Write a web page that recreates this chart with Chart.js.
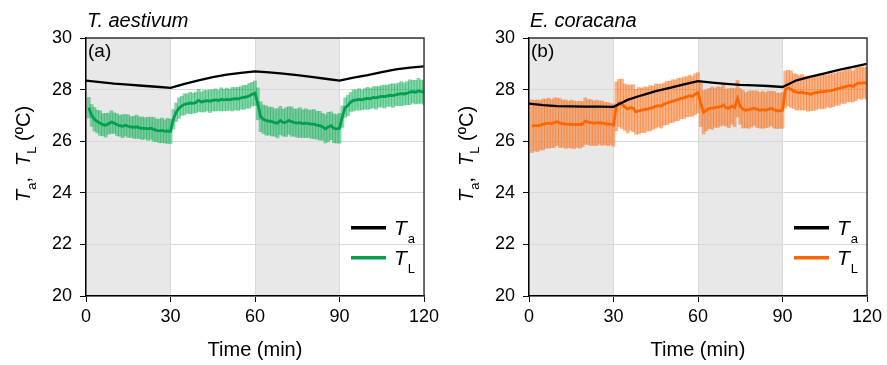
<!DOCTYPE html>
<html>
<head>
<meta charset="utf-8">
<script src="https://cdn.jsdelivr.net/npm/chart.js@4"></script>
<style>
  body { margin: 0; background: #fff; width: 887px; height: 365px; overflow: hidden; position: relative; }
  canvas { position: absolute; top: 0; }
  #chartA { left: 0; }
  #chartB { left: 440px; }
</style>
</head>
<body>
<canvas id="chartA" width="440" height="365"></canvas>
<canvas id="chartB" width="447" height="365"></canvas>
<script>
// air temperature, sampled every 5 min
const taTime = [0, 5, 10, 15, 20, 25, 30, 35, 40, 45, 50, 55, 60, 65, 70, 75, 80, 85, 90, 95, 100, 105, 110, 115, 120];
const taA = [28.35, 28.29, 28.23, 28.19, 28.15, 28.11, 28.07, 28.22, 28.36, 28.48, 28.58, 28.65, 28.71,
             28.67, 28.62, 28.56, 28.49, 28.42, 28.35, 28.46, 28.56, 28.68, 28.78, 28.85, 28.90];
const taB = [27.46, 27.40, 27.36, 27.35, 27.34, 27.34, 27.33, 27.60, 27.78, 27.94, 28.07, 28.20, 28.33,
             28.27, 28.22, 28.18, 28.16, 28.14, 28.10, 28.36, 28.50, 28.63, 28.76, 28.88, 29.00];

// leaf temperature (mean) and sd, one value per minute (1..120)
const tlA = [
  27.30, 27.00, 26.85, 26.76, 26.70, 26.64, 26.62, 26.68, 26.74, 26.70,
  26.64, 26.60, 26.58, 26.62, 26.58, 26.55, 26.54, 26.56, 26.52, 26.50,
  26.50, 26.48, 26.50, 26.46, 26.42, 26.40, 26.42, 26.38, 26.40, 26.38,
  26.85, 27.12, 27.28, 27.37, 27.43, 27.46, 27.48, 27.47, 27.50, 27.58,
  27.52, 27.55, 27.57, 27.55, 27.58, 27.60, 27.58, 27.62, 27.60, 27.62,
  27.61, 27.63, 27.65, 27.64, 27.68, 27.70, 27.72, 27.76, 27.82, 27.86,
  27.45, 26.95, 26.85, 26.80, 26.78, 26.76, 26.72, 26.70, 26.80, 26.72,
  26.74, 26.80, 26.76, 26.72, 26.70, 26.72, 26.68, 26.70, 26.68, 26.66,
  26.66, 26.62, 26.60, 26.56, 26.48, 26.55, 26.60, 26.50, 26.48, 26.50,
  26.95, 27.30, 27.38, 27.52, 27.58, 27.60, 27.62, 27.60, 27.64, 27.66,
  27.65, 27.70, 27.68, 27.72, 27.74, 27.73, 27.76, 27.78, 27.77, 27.80,
  27.82, 27.84, 27.83, 27.86, 27.90, 27.92, 27.90, 27.95, 27.92, 27.90
];
const sdA = [
  0.40, 0.42, 0.46, 0.44, 0.48, 0.43, 0.46, 0.41, 0.44, 0.40,
  0.43, 0.41, 0.45, 0.42, 0.44, 0.40, 0.43, 0.45, 0.42, 0.44,
  0.41, 0.45, 0.43, 0.47, 0.44, 0.46, 0.48, 0.45, 0.49, 0.47,
  0.38, 0.36, 0.40, 0.37, 0.41, 0.38, 0.42, 0.39, 0.40, 0.43,
  0.39, 0.42, 0.40, 0.44, 0.41, 0.43, 0.40, 0.45, 0.42, 0.44,
  0.41, 0.46, 0.43, 0.45, 0.44, 0.47, 0.45, 0.48, 0.46, 0.48,
  0.62, 0.58, 0.55, 0.57, 0.54, 0.56, 0.53, 0.57, 0.55, 0.52,
  0.56, 0.54, 0.57, 0.53, 0.55, 0.58, 0.54, 0.56, 0.53, 0.55,
  0.57, 0.54, 0.56, 0.52, 0.55, 0.57, 0.54, 0.56, 0.55, 0.58,
  0.42, 0.38, 0.40, 0.37, 0.41, 0.39, 0.42, 0.38, 0.40, 0.43,
  0.39, 0.41, 0.44, 0.40, 0.42, 0.45, 0.41, 0.43, 0.46, 0.42,
  0.44, 0.47, 0.43, 0.45, 0.48, 0.44, 0.46, 0.49, 0.45, 0.47
];
const tlB = [
  26.58, 26.60, 26.60, 26.62, 26.65, 26.68, 26.70, 26.68, 26.72, 26.75,
  26.70, 26.68, 26.66, 26.65, 26.66, 26.64, 26.65, 26.64, 26.66, 26.78,
  26.74, 26.72, 26.70, 26.71, 26.72, 26.70, 26.68, 26.66, 26.66, 26.62,
  27.35, 27.48, 27.45, 27.32, 27.25, 27.30, 27.28, 27.14, 27.18, 27.20,
  27.22, 27.24, 27.28, 27.30, 27.36, 27.38, 27.36, 27.44, 27.48, 27.52,
  27.55, 27.58, 27.62, 27.66, 27.68, 27.72, 27.76, 27.74, 27.82, 27.88,
  27.45, 27.12, 27.20, 27.27, 27.28, 27.30, 27.32, 27.34, 27.40, 27.30,
  27.28, 27.36, 27.30, 27.65, 27.35, 27.24, 27.20, 27.22, 27.25, 27.28,
  27.24, 27.20, 27.22, 27.20, 27.24, 27.27, 27.22, 27.18, 27.18, 27.20,
  28.00, 28.06, 28.02, 27.94, 27.90, 27.88, 27.90, 27.86, 27.84, 27.82,
  27.86, 27.88, 27.90, 27.92, 27.92, 27.95, 27.96, 27.98, 28.02, 28.04,
  28.08, 28.10, 28.14, 28.16, 28.12, 28.20, 28.26, 28.24, 28.27, 28.24
];
const sdB = [
  1.02, 0.98, 1.00, 0.96, 0.99, 0.95, 0.97, 0.93, 0.96, 0.92,
  0.95, 0.91, 0.94, 0.90, 0.93, 0.92, 0.89, 0.91, 0.88, 0.90,
  0.87, 0.89, 0.86, 0.88, 0.84, 0.86, 0.82, 0.84, 0.80, 0.82,
  0.95, 0.92, 0.96, 0.90, 0.93, 0.88, 0.91, 0.87, 0.90, 0.86,
  0.89, 0.85, 0.88, 0.84, 0.86, 0.83, 0.85, 0.82, 0.84, 0.81,
  0.83, 0.80, 0.82, 0.79, 0.81, 0.78, 0.80, 0.77, 0.79, 0.78,
  0.88, 0.84, 0.80, 0.78, 0.82, 0.76, 0.79, 0.75, 0.78, 0.72,
  0.76, 0.70, 0.74, 0.71, 0.69, 0.73, 0.68, 0.72, 0.70, 0.67,
  0.71, 0.69, 0.72, 0.68, 0.70, 0.67, 0.71, 0.69, 0.68, 0.70,
  0.72, 0.69, 0.71, 0.67, 0.70, 0.66, 0.69, 0.65, 0.68, 0.64,
  0.67, 0.66, 0.63, 0.67, 0.65, 0.62, 0.66, 0.64, 0.63, 0.65,
  0.61, 0.64, 0.62, 0.63, 0.60, 0.63, 0.61, 0.62, 0.60, 0.62
];
const minutes = tlA.map((_, i) => i + 1);

const shadedSpans = [[0, 30], [60, 90]];
const xRange = [0, 120];
const yRange = [20, 30];

const FAM = '"Liberation Sans", Arial, Helvetica, sans-serif';
Chart.defaults.font.family = FAM;
Chart.defaults.color = '#000';

// draw a run of text pieces (for subscripts)
function drawRuns(ctx, x, y, runs) {
  let cx = x;
  runs.forEach(r => {
    ctx.font = r.f + ' ' + FAM;
    ctx.fillText(r.t, cx, y + (r.dy || 0));
    cx += ctx.measureText(r.t).width + (r.gap || 0);
  });
}

const panelDecor = {
  id: 'panelDecor',
  beforeDraw(chart) {
    const { ctx, chartArea: a, scales: { x } } = chart;
    ctx.save();
    ctx.fillStyle = '#e8e8e8';
    shadedSpans.forEach(([s, e]) => {
      const x0 = x.getPixelForValue(s), x1 = x.getPixelForValue(e);
      ctx.fillRect(x0, a.top, x1 - x0, a.bottom - a.top);
    });
    ctx.restore();
  },
  afterDraw(chart, args, opts) {
    const { ctx, chartArea: a } = chart;
    ctx.save();
    // top / right frame
    ctx.strokeStyle = '#333';
    ctx.lineWidth = 1.4;
    ctx.beginPath();
    ctx.moveTo(a.left, a.top);
    ctx.lineTo(a.right, a.top);
    ctx.lineTo(a.right, a.bottom);
    ctx.stroke();

    ctx.fillStyle = '#000';
    ctx.textBaseline = 'alphabetic';
    ctx.textAlign = 'left';
    // species title
    ctx.font = 'italic 20px ' + FAM;
    ctx.fillText(opts.species, a.left + 1, 27);
    // panel label
    ctx.font = '19px ' + FAM;
    ctx.fillText(opts.label, a.left + 2, 57);

    // x title
    ctx.textAlign = 'center';
    ctx.font = '20px ' + FAM;
    ctx.fillText('Time (min)', (a.left + a.right) / 2, 356);
    ctx.textAlign = 'left';

    // y title, rotated
    ctx.save();
    ctx.translate(a.left - 56.5, 202);
    ctx.rotate(-Math.PI / 2);
    drawRuns(ctx, 0, 0, [
      { t: 'T', f: 'italic 20px' },
      { t: 'a', f: '13px', dy: 6 },
      { t: ',  ', f: '20px' },
      { t: 'T', f: 'italic 20px' },
      { t: 'L', f: '13px', dy: 6 },
      { t: ' (ºC)', f: '20px' }
    ]);
    ctx.restore();

    // legend
    const lx0 = a.right - 73, lx1 = a.right - 38, tx = a.right - 30;
    [[227.7, '#000', 'a'], [257.7, opts.color, 'L']].forEach(([ly, col, sub]) => {
      ctx.strokeStyle = col;
      ctx.lineWidth = 3.5;
      ctx.beginPath();
      ctx.moveTo(lx0, ly);
      ctx.lineTo(lx1, ly);
      ctx.stroke();
      ctx.fillStyle = '#000';
      drawRuns(ctx, tx, ly + 7.5, [
        { t: 'T', f: 'italic 21px', gap: 1 },
        { t: sub, f: '13px', dy: 8 }
      ]);
    });
    ctx.restore();
  }
};

function makePanel(id, opts) {
  const barData = opts.tl.map((v, i) => ({ x: minutes[i], y: [v - opts.sd[i], v + opts.sd[i]] }));
  const tlData = opts.tl.map((v, i) => ({ x: minutes[i], y: v }));
  const taData = opts.ta.map((v, i) => ({ x: taTime[i], y: v }));

  return new Chart(document.getElementById(id), {
    type: 'line',
    data: {
      datasets: [
        {
          label: 'Ta',
          data: taData,
          borderColor: '#000',
          borderWidth: 2.3,
          pointRadius: 0,
          tension: 0,
          fill: false,
          order: 0
        },
        {
          label: 'TL',
          data: tlData,
          borderColor: opts.color,
          borderWidth: 2.8,
          pointRadius: 0,
          tension: 0,
          fill: false,
          order: 1
        },
        {
          type: 'bar',
          label: 'TL sd',
          data: barData,
          backgroundColor: opts.barColor,
          borderWidth: 0,
          barThickness: 3.1,
          order: 2
        }
      ]
    },
    options: {
      responsive: false,
      animation: false,
      layout: { padding: { left: 0, top: 38, right: opts.rightPad, bottom: 0 } },
      scales: {
        x: {
          type: 'linear',
          min: xRange[0],
          max: xRange[1],
          offset: false,
          afterFit: s => { s.height = 69; s.paddingLeft = 0; s.paddingRight = 0; },
          ticks: { stepSize: 30, padding: 4, font: { size: 18 }, color: '#000', maxRotation: 0 },
          grid: { color: '#d9d9d9', lineWidth: 1, tickColor: '#000', tickLength: 6, offset: false },
          border: { display: true, color: '#000', width: 1.5 }
        },
        y: {
          type: 'linear',
          min: yRange[0],
          max: yRange[1],
          afterFit: s => { s.width = opts.yWidth; s.paddingTop = 0; s.paddingBottom = 0; },
          ticks: { stepSize: 2, padding: 8, font: { size: 18 }, color: '#000' },
          grid: { color: '#d9d9d9', lineWidth: 1, tickColor: '#000', tickLength: 6 },
          border: { display: true, color: '#000', width: 1.5 }
        }
      },
      plugins: {
        legend: { display: false },
        tooltip: { enabled: false },
        panelDecor: { species: opts.species, label: opts.label, color: opts.color }
      }
    },
    plugins: [panelDecor]
  });
}

makePanel('chartA', {
  species: 'T. aestivum', label: '(a)',
  ta: taA, tl: tlA, sd: sdA,
  color: '#00a050', barColor: 'rgba(0,170,75,0.48)',
  yWidth: 86, rightPad: 16
});
makePanel('chartB', {
  species: 'E. coracana', label: '(b)',
  ta: taB, tl: tlB, sd: sdB,
  color: '#ff6600', barColor: 'rgba(245,105,15,0.5)',
  yWidth: 89, rightPad: 20
});
</script>
</body>
</html>
